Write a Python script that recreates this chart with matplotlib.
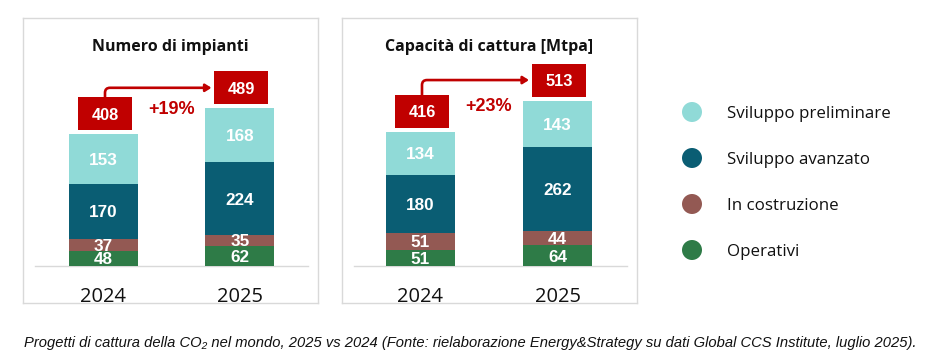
import matplotlib
matplotlib.use("Agg")
import matplotlib.pyplot as plt
from matplotlib.patches import Rectangle, FancyArrowPatch
from matplotlib.path import Path

# ---------------- data ----------------
years = ["2024", "2025"]
categories = ["Operativi", "In costruzione", "Sviluppo avanzato", "Sviluppo preliminare"]

impianti_operativi = [48, 62]
impianti_costruzione = [37, 35]
impianti_avanzato = [170, 224]
impianti_preliminare = [153, 168]
impianti_totali = [408, 489]
impianti_crescita = "+19%"

capacita_operativi = [51, 64]
capacita_costruzione = [51, 44]
capacita_avanzato = [180, 262]
capacita_preliminare = [134, 143]
capacita_totali = [416, 513]
capacita_crescita = "+23%"

legend_labels = ["Sviluppo preliminare", "Sviluppo avanzato", "In costruzione", "Operativi"]
caption = ("Progetti di cattura della CO\u2082 nel mondo, 2025 vs 2024 (Fonte: rielaborazione "
           "Energy&Strategy su dati Global CCS Institute, luglio 2025).")

colors = {
    "Operativi": "#2E7B47",
    "In costruzione": "#935953",
    "Sviluppo avanzato": "#0A5D73",
    "Sviluppo preliminare": "#90DAD7",
}
RED = "#C00000"
BORDER = "#D9D9D9"
TXT = "#111111"

# ---------------- layout ----------------
W, H = 953, 363
fig = plt.figure(figsize=(W / 100, H / 100), dpi=100)
plt.rcParams["font.family"] = ["Liberation Sans", "DejaVu Sans"]
HEAD_FONT = ["Open Sans", "Liberation Sans", "DejaVu Sans"]

SCALE = 0.3225      # pixels per data unit
BASE = 266          # baseline pixel row
TOP, BOT = 18, 303  # panel frame rows


def px_axes(x0, y0, x1, y1):
    return fig.add_axes([x0 / W, 1 - y1 / H, (x1 - x0) / W, (y1 - y0) / H])


def panel(x0, x1, c0, c1, series, totals, growth, title):
    ax = px_axes(x0, TOP, x1, BOT)
    step = c1 - c0
    ax.set_xlim(-(c0 - x0) / step, 1 + (x1 - c1) / step)
    ax.set_ylim(-(BOT - BASE) / SCALE, (BASE - TOP) / SCALE)
    ax.set_xticks([])
    ax.set_yticks([])
    for s in ax.spines.values():
        s.set_color(BORDER)
        s.set_linewidth(1.0)

    xs = [0, 1]
    bw = 69 / step
    ax.axhline(0, xmin=12 / (x1 - x0), xmax=1 - 10 / (x1 - x0), color=BORDER, lw=1.0, zorder=1)

    bottoms = [0, 0]
    for cat, vals in zip(categories, series):
        ax.bar(xs, vals, width=bw, bottom=bottoms, color=colors[cat], edgecolor="none", zorder=2)
        for i, v in enumerate(vals):
            ax.text(xs[i], bottoms[i] + v / 2, str(v), ha="center", va="center_baseline",
                    color="white", fontsize=12.3, fontweight="bold", zorder=4)
        bottoms = [b + v for b, v in zip(bottoms, vals)]

    # total boxes
    gap = 4 / SCALE
    bh = 33 / SCALE
    bxw = 54 / step
    off = 1.5 / step
    for i, t in enumerate(totals):
        ax.add_patch(Rectangle((xs[i] + off - bxw / 2, t + gap), bxw, bh,
                               facecolor=RED, edgecolor="none", zorder=3))
        ax.text(xs[i] + off, t + gap + bh / 2, str(t), ha="center", va="center_baseline",
                color="white", fontsize=11.8, fontweight="bold", zorder=4)

    # arrow
    ax_x = xs[0] + off
    ay0 = totals[0] + gap + bh
    ay1 = totals[1] + gap + bh / 2
    ax_end = xs[1] + off - bxw / 2 - 3 / step
    rx, ry = 5 / step, 5 / SCALE
    verts = [(ax_x, ay0), (ax_x, ay1 - ry), (ax_x, ay1), (ax_x + rx, ay1), (ax_end, ay1)]
    codes = [Path.MOVETO, Path.LINETO, Path.CURVE3, Path.CURVE3, Path.LINETO]
    arr = FancyArrowPatch(path=Path(verts, codes), arrowstyle="-|>,head_length=3.5,head_width=2.2",
                          color=RED, lw=1.9, zorder=3, shrinkA=0, shrinkB=0)
    ax.add_patch(arr)

    ax.text(0.5, totals[0] + gap + bh / 2 + 6.5 / SCALE, growth, ha="center", va="center_baseline",
            color=RED, fontsize=13, fontweight="bold", zorder=4)

    ax.text(0.5, (BOT - 45) / (BOT - TOP), title, transform=ax.transAxes, ha="center",
            va="center_baseline", fontsize=11.5, fontweight="bold", color=TXT, family=HEAD_FONT)
    for i, y in enumerate(years):
        ax.text(xs[i], (BOT - 295) / (BOT - TOP), y, transform=ax.get_xaxis_transform(),
                ha="center", va="center_baseline", fontsize=14.5, color=TXT, family=HEAD_FONT)
    return ax


panel(23, 318, 103.5, 240,
      [impianti_operativi, impianti_costruzione, impianti_avanzato, impianti_preliminare],
      impianti_totali, impianti_crescita, "Numero di impianti")
panel(342, 637, 420.5, 557.5,
      [capacita_operativi, capacita_costruzione, capacita_avanzato, capacita_preliminare],
      capacita_totali, capacita_crescita, "Capacità di cattura [Mtpa]")

# legend (manual, pixel coordinates)
lax = fig.add_axes([0, 0, 1, 1])
lax.set_xlim(0, W)
lax.set_ylim(H, 0)
lax.axis("off")
for i, lab in enumerate(legend_labels):
    y = 112 + i * 46
    lax.scatter([692], [y], s=(20 * 0.72) ** 2, color=colors[lab], edgecolor="none")
    lax.text(727, y, lab, ha="left", va="center_baseline", fontsize=12.2, color=TXT,
             family=HEAD_FONT)

lax.text(24, 342, caption, ha="left", va="center_baseline", fontsize=10.65, style="italic",
         family=["Liberation Sans Narrow", "Liberation Sans", "DejaVu Sans"], color=TXT)

fig.savefig("out.png", dpi=100)
